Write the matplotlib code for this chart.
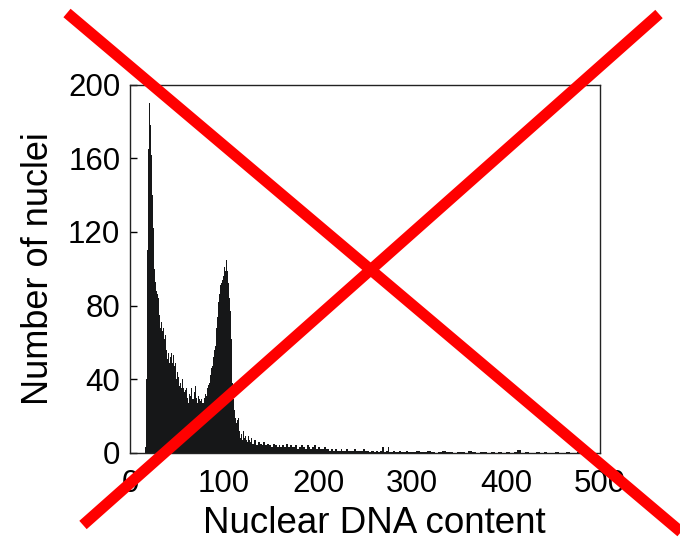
import numpy as np
import matplotlib
matplotlib.use("Agg")
import matplotlib.pyplot as plt
from matplotlib.lines import Line2D

plt.rcParams['font.family'] = ['Liberation Sans', 'DejaVu Sans']

# Histogram counts, width-1 bins starting at DNA content 16
counts_fine = [3, 40, 110, 165, 190, 178, 162, 140, 122, 114,
               100, 93, 88, 86, 84, 75, 68, 71, 66, 68,
               62, 64, 56, 51, 54, 50, 49, 52, 54, 49,
               53, 47, 49, 40, 44, 41, 36, 38, 35, 40,
               35, 33, 31, 34, 35, 30, 27, 32, 31, 35,
               29, 29, 33, 36, 30, 27, 31, 29, 28, 26,
               29, 27, 27, 30, 32, 31, 35, 37, 38, 42,
               46, 47, 52, 56, 58, 63, 68, 74, 82, 86,
               91, 92, 94, 96, 101, 99, 105, 99, 92, 84,
               77, 62, 52, 38, 29, 23, 19, 16, 18, 19,
               12, 8, 10, 7, 12, 8, 9, 7, 6, 8,
               9, 7, 6, 8]
fine_start, fine_width = 16, 1

# width-2 bins starting at 130
counts_mid = [5, 7, 4, 6, 5, 4, 6, 4, 5, 4,
              3, 5, 4, 3, 4, 3, 4, 3, 5, 3,
              4, 3, 3, 4, 2, 3, 4, 3, 2, 4,
              3, 2, 3, 4, 2, 3, 2, 2, 3, 2,
              2, 1, 2, 1, 2, 1, 1, 2, 1, 1,
              2, 1, 1, 1, 2, 1, 1, 1, 1, 2,
              1, 1, 0.5, 1, 1, 0.5, 1, 0.5, 1, 3,
              0.5, 1, 3, 0.5, 0.5, 1, 0.5, 0.5, 1, 0.5,
              0.5, 0.5, 1, 0.5, 0.5]
mid_start, mid_width = 130, 2

# width-4 bins starting at 300
counts_tail = [0.5, 1, 0.5, 0.5, 1, 0.5, 0, 0.5, 1, 0.5,
               0.5, 0, 0.5, 0.5, 0, 1, 0.5, 0, 0.5, 0.5,
               0, 0.5, 0, 0.5, 0, 0.5, 0, 0.5, 1.5, 0,
               0.5, 0, 0, 0.5, 0, 0.5, 0, 0, 0.5, 0,
               0, 0.5, 0, 0, 0.5, 0, 0, 0.5, 0, 0]
tail_start, tail_width = 300, 4

x_ticks = [0, 100, 200, 300, 400, 500]
y_ticks = [0, 40, 80, 120, 160, 200]

counts = np.array(counts_fine + counts_mid + counts_tail, dtype=float)
edges = np.concatenate([
    fine_start + fine_width * np.arange(len(counts_fine)),
    mid_start + mid_width * np.arange(len(counts_mid)),
    tail_start + tail_width * np.arange(len(counts_tail) + 1),
])

W, H = 680, 541
fig = plt.figure(figsize=(W / 100, H / 100), dpi=100)
ax = fig.add_axes([130 / W, (H - 452.7) / H, 470 / W, 368 / H])

ax.stairs(counts, edges, fill=True, color='#161718', linewidth=0)

ax.set_xlim(0, 500)
ax.set_ylim(0, 200)
ax.set_xticks(x_ticks)
ax.set_yticks(y_ticks)
ax.tick_params(axis='y', direction='in', length=5, width=1, labelsize=22.5, pad=7)
ax.tick_params(axis='x', length=0, labelsize=22.5, pad=12)
for s in ax.spines.values():
    s.set_linewidth(1)
    s.set_color('#222222')

ax.set_xlabel('Nuclear DNA content', fontsize=26.5, labelpad=5,
              x=(374 - 130) / 470)
ax.set_ylabel('Number of nuclei', fontsize=26, labelpad=9)

def px(x, y):
    return x / W, 1 - y / H

x1, y1 = px(67, 13)
x2, y2 = px(720, 565)
fig.add_artist(Line2D([x1, x2], [y1, y2], transform=fig.transFigure,
                      color='#ff0000', linewidth=8, solid_capstyle='butt'))
x1, y1 = px(83, 525)
x2, y2 = px(659, 14)
fig.add_artist(Line2D([x1, x2], [y1, y2], transform=fig.transFigure,
                      color='#ff0000', linewidth=8, solid_capstyle='butt'))

fig.savefig('out.png', dpi=100)
